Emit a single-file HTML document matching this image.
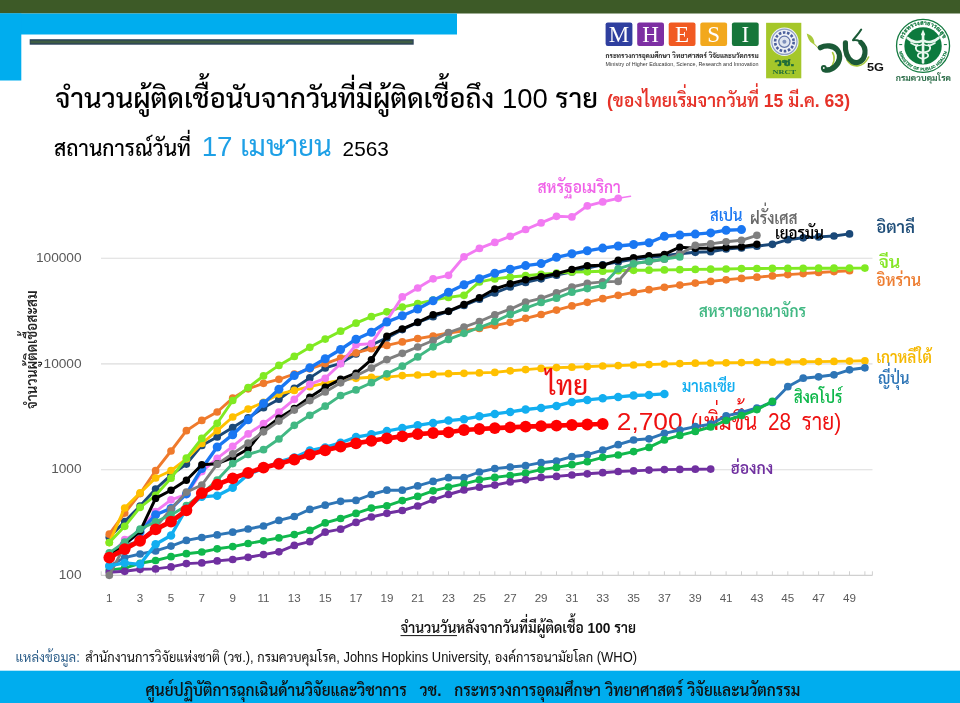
<!DOCTYPE html>
<html lang="th"><head><meta charset="utf-8"><title>COVID-19</title>
<style>html,body{margin:0;padding:0;background:#fff}body{width:960px;height:703px;overflow:hidden}svg{display:block}text{font-family:'Liberation Sans','Sarabun','Noto Sans Thai',sans-serif}.sf,.sf text{font-family:"Liberation Serif",serif}</style></head><body>
<svg width="960" height="703" viewBox="0 0 960 703">
<rect width="960" height="703" fill="#fff"/>
<rect x="0" y="0" width="960" height="13.5" fill="#3d5a27"/>
<rect x="0" y="13.5" width="457" height="21" fill="#00adee"/>
<rect x="0" y="13.5" width="21.3" height="67" fill="#00adee"/>
<rect x="29.7" y="39.2" width="384" height="5.5" fill="#2a4159"/>
<rect x="30.5" y="40.6" width="382" height="2.7" fill="#3e5c44"/>
<rect x="0" y="670.7" width="960" height="32.3" fill="#00adee"/>
<line x1="101" x2="872.5" y1="258.3" y2="258.3" stroke="#dcdcdc" stroke-width="1.1"/>
<line x1="101" x2="872.5" y1="363.9" y2="363.9" stroke="#dcdcdc" stroke-width="1.1"/>
<line x1="101" x2="872.5" y1="469.8" y2="469.8" stroke="#dcdcdc" stroke-width="1.1"/>
<line x1="101" x2="872.5" y1="575.3" y2="575.3" stroke="#d0d0d0" stroke-width="1.2"/>
<path d="M109.3 575.3v-4M124.7 575.3v-4M140.1 575.3v-4M155.6 575.3v-4M171.0 575.3v-4M186.4 575.3v-4M201.8 575.3v-4M217.2 575.3v-4M232.7 575.3v-4M248.1 575.3v-4M263.5 575.3v-4M278.9 575.3v-4M294.3 575.3v-4M309.8 575.3v-4M325.2 575.3v-4M340.6 575.3v-4M356.0 575.3v-4M371.4 575.3v-4M386.9 575.3v-4M402.3 575.3v-4M417.7 575.3v-4M433.1 575.3v-4M448.5 575.3v-4M464.0 575.3v-4M479.4 575.3v-4M494.8 575.3v-4M510.2 575.3v-4M525.6 575.3v-4M541.1 575.3v-4M556.5 575.3v-4M571.9 575.3v-4M587.3 575.3v-4M602.7 575.3v-4M618.2 575.3v-4M633.6 575.3v-4M649.0 575.3v-4M664.4 575.3v-4M679.8 575.3v-4M695.3 575.3v-4M710.7 575.3v-4M726.1 575.3v-4M741.5 575.3v-4M756.9 575.3v-4M772.4 575.3v-4M787.8 575.3v-4M803.2 575.3v-4M818.6 575.3v-4M834.0 575.3v-4M849.5 575.3v-4M864.9 575.3v-4M101.2 575.3v-4M872.4 575.3v-4" stroke="#d0d0d0" stroke-width="1" fill="none"/>
<text x="81.6" y="261.9" text-anchor="end" font-size="13.7" fill="#595959">100000</text>
<text x="81.6" y="367.5" text-anchor="end" font-size="13.7" fill="#595959">10000</text>
<text x="81.6" y="473.4" text-anchor="end" font-size="13.7" fill="#595959">1000</text>
<text x="81.6" y="578.9" text-anchor="end" font-size="13.7" fill="#595959">100</text>
<text x="109.3" y="602" text-anchor="middle" font-size="11.6" fill="#595959">1</text>
<text x="140.1" y="602" text-anchor="middle" font-size="11.6" fill="#595959">3</text>
<text x="171.0" y="602" text-anchor="middle" font-size="11.6" fill="#595959">5</text>
<text x="201.8" y="602" text-anchor="middle" font-size="11.6" fill="#595959">7</text>
<text x="232.7" y="602" text-anchor="middle" font-size="11.6" fill="#595959">9</text>
<text x="263.5" y="602" text-anchor="middle" font-size="11.6" fill="#595959">11</text>
<text x="294.3" y="602" text-anchor="middle" font-size="11.6" fill="#595959">13</text>
<text x="325.2" y="602" text-anchor="middle" font-size="11.6" fill="#595959">15</text>
<text x="356.0" y="602" text-anchor="middle" font-size="11.6" fill="#595959">17</text>
<text x="386.9" y="602" text-anchor="middle" font-size="11.6" fill="#595959">19</text>
<text x="417.7" y="602" text-anchor="middle" font-size="11.6" fill="#595959">21</text>
<text x="448.5" y="602" text-anchor="middle" font-size="11.6" fill="#595959">23</text>
<text x="479.4" y="602" text-anchor="middle" font-size="11.6" fill="#595959">25</text>
<text x="510.2" y="602" text-anchor="middle" font-size="11.6" fill="#595959">27</text>
<text x="541.1" y="602" text-anchor="middle" font-size="11.6" fill="#595959">29</text>
<text x="571.9" y="602" text-anchor="middle" font-size="11.6" fill="#595959">31</text>
<text x="602.7" y="602" text-anchor="middle" font-size="11.6" fill="#595959">33</text>
<text x="633.6" y="602" text-anchor="middle" font-size="11.6" fill="#595959">35</text>
<text x="664.4" y="602" text-anchor="middle" font-size="11.6" fill="#595959">37</text>
<text x="695.3" y="602" text-anchor="middle" font-size="11.6" fill="#595959">39</text>
<text x="726.1" y="602" text-anchor="middle" font-size="11.6" fill="#595959">41</text>
<text x="756.9" y="602" text-anchor="middle" font-size="11.6" fill="#595959">43</text>
<text x="787.8" y="602" text-anchor="middle" font-size="11.6" fill="#595959">45</text>
<text x="818.6" y="602" text-anchor="middle" font-size="11.6" fill="#595959">47</text>
<text x="849.5" y="602" text-anchor="middle" font-size="11.6" fill="#595959">49</text>
<text id="t_n2700" x="616.8" y="429.7" font-size="24.5" fill="#ee1111" font-weight="normal" textLength="65.8" lengthAdjust="spacingAndGlyphs">2,700</text>
<text id="t_n2700b" x="690.8" y="429.7" font-size="24.5" fill="#ee1111" font-weight="normal" textLength="66.4" lengthAdjust="spacingAndGlyphs">(เพิ่มขึ้น</text>
<text id="t_n2700c" x="768.0" y="429.7" font-size="24.5" fill="#ee1111" font-weight="normal" textLength="23.2" lengthAdjust="spacingAndGlyphs">28</text>
<text id="t_n2700d" x="801.8" y="429.7" font-size="24.5" fill="#ee1111" font-weight="normal" textLength="39.4" lengthAdjust="spacingAndGlyphs">ราย)</text>
<defs><marker id="m_italy" markerUnits="userSpaceOnUse" markerWidth="9.7" markerHeight="9.7" refX="4.85" refY="4.85"><circle cx="4.85" cy="4.85" r="3.85" fill="#1a4878"/></marker><marker id="m_iran" markerUnits="userSpaceOnUse" markerWidth="9.7" markerHeight="9.7" refX="4.85" refY="4.85"><circle cx="4.85" cy="4.85" r="3.85" fill="#ef7a2c"/></marker><marker id="m_korea" markerUnits="userSpaceOnUse" markerWidth="9.7" markerHeight="9.7" refX="4.85" refY="4.85"><circle cx="4.85" cy="4.85" r="3.85" fill="#ffc000"/></marker><marker id="m_china" markerUnits="userSpaceOnUse" markerWidth="9.7" markerHeight="9.7" refX="4.85" refY="4.85"><circle cx="4.85" cy="4.85" r="3.85" fill="#80ea22"/></marker><marker id="m_japan" markerUnits="userSpaceOnUse" markerWidth="9.7" markerHeight="9.7" refX="4.85" refY="4.85"><circle cx="4.85" cy="4.85" r="3.85" fill="#2e75b6"/></marker><marker id="m_sg" markerUnits="userSpaceOnUse" markerWidth="9.7" markerHeight="9.7" refX="4.85" refY="4.85"><circle cx="4.85" cy="4.85" r="3.85" fill="#10b84c"/></marker><marker id="m_hk" markerUnits="userSpaceOnUse" markerWidth="9.7" markerHeight="9.7" refX="4.85" refY="4.85"><circle cx="4.85" cy="4.85" r="3.85" fill="#7030a0"/></marker><marker id="m_usa" markerUnits="userSpaceOnUse" markerWidth="9.7" markerHeight="9.7" refX="4.85" refY="4.85"><circle cx="4.85" cy="4.85" r="3.85" fill="#f27af2"/></marker><marker id="m_spain" markerUnits="userSpaceOnUse" markerWidth="11" markerHeight="11" refX="5.5" refY="5.5"><circle cx="5.5" cy="5.5" r="4.5" fill="#1a77f2"/></marker><marker id="m_ger" markerUnits="userSpaceOnUse" markerWidth="9.4" markerHeight="9.4" refX="4.7" refY="4.7"><circle cx="4.7" cy="4.7" r="3.7" fill="#000000"/></marker><marker id="m_fra" markerUnits="userSpaceOnUse" markerWidth="9.7" markerHeight="9.7" refX="4.85" refY="4.85"><circle cx="4.85" cy="4.85" r="3.85" fill="#7f7f7f"/></marker><marker id="m_uk" markerUnits="userSpaceOnUse" markerWidth="9.7" markerHeight="9.7" refX="4.85" refY="4.85"><circle cx="4.85" cy="4.85" r="3.85" fill="#41b883"/></marker><marker id="m_mal" markerUnits="userSpaceOnUse" markerWidth="10.5" markerHeight="10.5" refX="5.25" refY="5.25"><circle cx="5.25" cy="5.25" r="4.25" fill="#12aef0"/></marker><marker id="m_thai" markerUnits="userSpaceOnUse" markerWidth="13.8" markerHeight="13.8" refX="6.9" refY="6.9"><circle cx="6.9" cy="6.9" r="5.9" fill="#ff0000"/></marker></defs>
<polyline points="109.3,537.3 124.7,521.6 140.1,506.0 155.6,489.0 171.0,475.1 186.4,464.1 201.8,445.4 217.2,437.0 232.7,427.5 248.1,417.9 263.5,407.7 278.9,399.2 294.3,388.3 309.8,377.9 325.2,367.9 340.6,363.3 356.0,353.9 371.4,345.0 386.9,337.9 402.3,329.6 417.7,322.4 433.1,316.7 448.5,311.3 464.0,305.5 479.4,299.2 494.8,292.9 510.2,286.9 525.6,282.4 541.1,278.8 556.5,275.2 571.9,271.9 587.3,268.2 602.7,264.9 618.2,261.9 633.6,259.4 649.0,257.5 664.4,255.7 679.8,253.7 695.3,252.3 710.7,251.7 726.1,249.0 741.5,247.9 756.9,246.2 772.4,244.3 787.8,239.7 803.2,237.8 818.6,236.9 834.0,236.0 849.5,233.9" fill="none" stroke="#1a4878" stroke-width="2.9" stroke-linejoin="round" stroke-linecap="round" marker-start="url(#m_italy)" marker-mid="url(#m_italy)" marker-end="url(#m_italy)"/>
<polyline points="109.3,534.2 124.7,513.1 140.1,493.6 155.6,470.7 171.0,451.0 186.4,430.7 201.8,420.4 217.2,412.0 232.7,398.2 248.1,388.8 263.5,383.3 278.9,379.3 294.3,374.0 309.8,368.8 325.2,363.6 340.6,358.1 356.0,352.9 371.4,348.7 386.9,345.4 402.3,341.9 417.7,338.6 433.1,336.0 448.5,333.0 464.0,330.8 479.4,328.5 494.8,325.6 510.2,322.3 525.6,318.3 541.1,314.5 556.5,310.1 571.9,305.9 587.3,302.3 602.7,298.7 618.2,295.3 633.6,292.4 649.0,289.7 664.4,287.3 679.8,285.1 695.3,283.1 710.7,281.4 726.1,279.8 741.5,278.4 756.9,277.2 772.4,275.9 787.8,274.6 803.2,273.6 818.6,272.5 834.0,271.6 849.5,270.7" fill="none" stroke="#ef7a2c" stroke-width="2.9" stroke-linejoin="round" stroke-linecap="round" marker-start="url(#m_iran)" marker-mid="url(#m_iran)" marker-end="url(#m_iran)"/>
<polyline points="109.3,542.6 124.7,508.0 140.1,492.9 155.6,478.0 171.0,470.7 186.4,459.0 201.8,443.5 217.2,430.7 232.7,417.0 248.1,409.1 263.5,402.3 278.9,394.1 294.3,390.4 309.8,386.7 325.2,383.1 340.6,380.1 356.0,378.3 371.4,377.3 386.9,377.1 402.3,375.6 417.7,375.0 433.1,374.3 448.5,373.7 464.0,373.3 479.4,372.9 494.8,372.4 510.2,370.8 525.6,369.6 541.1,368.4 556.5,367.6 571.9,367.2 587.3,366.6 602.7,366.0 618.2,365.6 633.6,365.0 649.0,364.6 664.4,364.0 679.8,363.6 695.3,363.2 710.7,363.0 726.1,362.8 741.5,362.6 756.9,362.4 772.4,362.2 787.8,362.0 803.2,361.8 818.6,361.6 834.0,361.4 849.5,361.1 864.9,360.8" fill="none" stroke="#ffc000" stroke-width="2.9" stroke-linejoin="round" stroke-linecap="round" marker-start="url(#m_korea)" marker-mid="url(#m_korea)" marker-end="url(#m_korea)"/>
<polyline points="109.3,542.6 124.7,526.3 140.1,507.3 155.6,495.3 171.0,478.2 186.4,458.1 201.8,438.4 217.2,423.3 232.7,400.5 248.1,387.6 263.5,375.9 278.9,365.4 294.3,356.4 309.8,347.3 325.2,339.1 340.6,331.2 356.0,323.2 371.4,316.7 386.9,311.8 402.3,307.1 417.7,303.7 433.1,300.1 448.5,297.4 464.0,295.3 479.4,281.9 494.8,278.9 510.2,277.0 525.6,275.7 541.1,274.3 556.5,273.1 571.9,272.0 587.3,271.8 602.7,271.2 618.2,270.7 633.6,270.3 649.0,270.2 664.4,269.9 679.8,269.7 695.3,269.4 710.7,269.2 726.1,269.0 741.5,268.6 756.9,268.5 772.4,268.4 787.8,268.4 803.2,268.3 818.6,268.2 834.0,268.2 849.5,268.1 864.9,268.1" fill="none" stroke="#80ea22" stroke-width="2.9" stroke-linejoin="round" stroke-linecap="round" marker-start="url(#m_china)" marker-mid="url(#m_china)" marker-end="url(#m_china)"/>
<polyline points="109.3,566.2 124.7,557.6 140.1,554.0 155.6,550.9 171.0,546.1 186.4,540.4 201.8,537.5 217.2,534.9 232.7,532.2 248.1,529.0 263.5,526.0 278.9,520.4 294.3,516.5 309.8,509.4 325.2,505.2 340.6,501.3 356.0,500.4 371.4,494.5 386.9,490.2 402.3,490.2 417.7,485.9 433.1,481.4 448.5,477.7 464.0,477.7 479.4,472.0 494.8,468.6 510.2,467.0 525.6,465.7 541.1,462.7 556.5,461.0 571.9,456.7 587.3,454.7 602.7,450.1 618.2,444.7 633.6,440.0 649.0,438.8 664.4,433.3 679.8,430.0 695.3,426.7 710.7,424.2 726.1,415.8 741.5,412.5 756.9,408.0 772.4,402.4 787.8,386.7 803.2,378.2 818.6,376.8 834.0,374.8 849.5,369.8 864.9,367.8" fill="none" stroke="#2e75b6" stroke-width="2.9" stroke-linejoin="round" stroke-linecap="round" marker-start="url(#m_japan)" marker-mid="url(#m_japan)" marker-end="url(#m_japan)"/>
<polyline points="109.3,570.1 124.7,568.1 140.1,563.3 155.6,560.5 171.0,556.7 186.4,553.7 201.8,552.0 217.2,548.8 232.7,546.6 248.1,543.5 263.5,540.8 278.9,537.9 294.3,534.6 309.8,530.4 325.2,522.9 340.6,518.5 356.0,513.4 371.4,508.1 386.9,505.8 402.3,500.6 417.7,496.4 433.1,490.8 448.5,487.1 464.0,483.9 479.4,479.8 494.8,477.4 510.2,475.5 525.6,473.2 541.1,469.6 556.5,467.4 571.9,464.7 587.3,461.7 602.7,457.3 618.2,455.0 633.6,451.6 649.0,447.4 664.4,439.9 679.8,435.4 695.3,431.4 710.7,427.0 726.1,420.5 741.5,415.5 756.9,409.6 772.4,401.4" fill="none" stroke="#10b84c" stroke-width="2.9" stroke-linejoin="round" stroke-linecap="round" marker-start="url(#m_sg)" marker-mid="url(#m_sg)" marker-end="url(#m_sg)"/>
<polyline points="109.3,572.2 124.7,571.3 140.1,569.3 155.6,568.9 171.0,566.9 186.4,563.6 201.8,562.9 217.2,560.9 232.7,559.5 248.1,557.3 263.5,554.6 278.9,551.8 294.3,545.4 309.8,541.7 325.2,532.2 340.6,529.2 356.0,522.4 371.4,517.0 386.9,513.3 402.3,510.5 417.7,506.0 433.1,499.8 448.5,494.5 464.0,490.0 479.4,487.2 494.8,485.1 510.2,481.9 525.6,479.8 541.1,477.4 556.5,476.4 571.9,475.0 587.3,473.8 602.7,472.7 618.2,471.5 633.6,470.9 649.0,470.1 664.4,469.6 679.8,469.4 695.3,469.2 710.7,469.1" fill="none" stroke="#7030a0" stroke-width="2.9" stroke-linejoin="round" stroke-linecap="round" marker-start="url(#m_hk)" marker-mid="url(#m_hk)" marker-end="url(#m_hk)"/>
<polyline points="109.3,557.0 124.7,539.7 140.1,531.1 155.6,511.5 171.0,499.8 186.4,494.4 201.8,471.6 217.2,458.3 232.7,446.3 248.1,433.9 263.5,423.6 278.9,412.2 294.3,399.3 309.8,384.3 325.2,378.3 340.6,363.7 356.0,344.8 371.4,343.6 386.9,320.5 402.3,296.9 417.7,288.0 433.1,278.8 448.5,275.3 464.0,256.8 479.4,248.4 494.8,242.4 510.2,236.3 525.6,229.5 541.1,222.9 556.5,216.3 571.9,216.9 587.3,205.9 602.7,201.9 618.2,198.3" fill="none" stroke="#f27af2" stroke-width="2.9" stroke-linejoin="round" stroke-linecap="round" marker-start="url(#m_usa)" marker-mid="url(#m_usa)" marker-end="url(#m_usa)"/>
<polyline points="109.3,556.4 124.7,544.0 140.1,532.0 155.6,514.8 171.0,508.4 186.4,493.9 201.8,468.5 217.2,447.0 232.7,434.7 248.1,419.8 263.5,403.4 278.9,389.3 294.3,375.6 309.8,367.8 325.2,358.8 340.6,349.5 356.0,339.2 371.4,332.2 386.9,322.0 402.3,315.8 417.7,309.0 433.1,300.7 448.5,292.3 464.0,284.7 479.4,278.7 494.8,273.2 510.2,269.2 525.6,265.6 541.1,263.6 556.5,257.3 571.9,253.8 587.3,250.8 602.7,248.1 618.2,246.0 633.6,244.5 649.0,242.7 664.4,236.2 679.8,235.0 695.3,234.1 710.7,232.9 726.1,230.2 741.5,229.6" fill="none" stroke="#1a77f2" stroke-width="3.4" stroke-linejoin="round" stroke-linecap="round" marker-start="url(#m_spain)" marker-mid="url(#m_spain)" marker-end="url(#m_spain)"/>
<polyline points="109.3,554.6 124.7,544.4 140.1,531.1 155.6,498.4 171.0,490.2 186.4,480.2 201.8,464.8 217.2,463.7 232.7,457.7 248.1,449.0 263.5,430.0 278.9,418.3 294.3,408.4 309.8,397.3 325.2,387.3 340.6,379.3 356.0,373.1 371.4,359.6 386.9,336.2 402.3,328.9 417.7,322.3 433.1,314.8 448.5,311.2 464.0,304.5 479.4,297.8 494.8,289.0 510.2,283.8 525.6,279.8 541.1,276.7 556.5,273.7 571.9,269.4 587.3,265.7 602.7,265.3 618.2,260.1 633.6,257.7 649.0,255.7 664.4,254.4 679.8,247.2 695.3,248.2 710.7,248.2 726.1,247.5 741.5,246.7 756.9,244.2" fill="none" stroke="#000000" stroke-width="3" stroke-linejoin="round" stroke-linecap="round" marker-start="url(#m_ger)" marker-mid="url(#m_ger)" marker-end="url(#m_ger)"/>
<polyline points="109.3,575.3 124.7,545.6 140.1,540.8 155.6,527.2 171.0,509.1 186.4,492.1 201.8,485.0 217.2,464.2 232.7,453.8 248.1,443.1 263.5,431.8 278.9,421.1 294.3,410.1 309.8,400.6 325.2,392.0 340.6,382.8 356.0,375.8 371.4,368.1 386.9,359.6 402.3,353.3 417.7,347.0 433.1,340.5 448.5,332.5 464.0,327.1 479.4,321.5 494.8,314.9 510.2,309.2 525.6,302.1 541.1,298.3 556.5,292.9 571.9,287.0 587.3,283.4 602.7,281.9 618.2,281.4 633.6,263.1 649.0,261.7 664.4,259.2 679.8,254.3 695.3,245.3 710.7,243.9 726.1,241.8 741.5,240.3 756.9,235.3" fill="none" stroke="#7f7f7f" stroke-width="2.9" stroke-linejoin="round" stroke-linecap="round" marker-start="url(#m_fra)" marker-mid="url(#m_fra)" marker-end="url(#m_fra)"/>
<polyline points="109.3,552.9 124.7,542.1 140.1,529.2 155.6,521.8 171.0,514.9 186.4,505.7 201.8,493.8 217.2,480.0 232.7,463.6 248.1,454.5 263.5,449.7 278.9,439.0 294.3,425.3 309.8,415.3 325.2,406.2 340.6,395.6 356.0,389.9 371.4,382.7 386.9,373.8 402.3,366.2 417.7,356.9 433.1,346.8 448.5,339.4 464.0,333.3 479.4,327.5 494.8,321.6 510.2,314.4 525.6,308.2 541.1,302.5 556.5,298.2 571.9,292.2 587.3,288.6 602.7,285.5 618.2,268.8 633.6,263.8 649.0,261.2 664.4,259.0 679.8,256.9" fill="none" stroke="#41b883" stroke-width="2.9" stroke-linejoin="round" stroke-linecap="round" marker-start="url(#m_uk)" marker-mid="url(#m_uk)" marker-end="url(#m_uk)"/>
<polyline points="109.3,565.8 124.7,562.9 140.1,564.3 155.6,544.2 171.0,535.5 186.4,508.6 201.8,496.8 217.2,495.7 232.7,487.8 248.1,474.5 263.5,468.3 278.9,461.9 294.3,457.4 309.8,450.5 325.2,447.4 340.6,442.8 356.0,437.1 371.4,434.3 386.9,431.0 402.3,428.1 417.7,425.3 433.1,422.9 448.5,420.6 464.0,419.2 479.4,416.3 494.8,413.9 510.2,411.9 525.6,409.5 541.1,407.9 556.5,405.9 571.9,401.9 587.3,399.9 602.7,398.3 618.2,396.9 633.6,395.5 649.0,394.9 664.4,393.9" fill="none" stroke="#12aef0" stroke-width="3.3" stroke-linejoin="round" stroke-linecap="round" marker-start="url(#m_mal)" marker-mid="url(#m_mal)" marker-end="url(#m_mal)"/>
<polyline points="109.3,557.6 124.7,549.1 140.1,540.8 155.6,529.4 171.0,521.6 186.4,510.4 201.8,493.1 217.2,484.6 232.7,478.3 248.1,472.8 263.5,467.6 278.9,463.8 294.3,459.6 309.8,454.6 325.2,450.3 340.6,446.6 356.0,443.4 371.4,440.8 386.9,438.3 402.3,436.3 417.7,434.1 433.1,433.0 448.5,432.3 464.0,430.0 479.4,429.0 494.8,428.1 510.2,427.3 525.6,426.7 541.1,426.2 556.5,425.6 571.9,425.0 587.3,424.5 602.7,424.0" fill="none" stroke="#ff0000" stroke-width="4.7" stroke-linejoin="round" stroke-linecap="round" marker-start="url(#m_thai)" marker-mid="url(#m_thai)" marker-end="url(#m_thai)"/>
<path d="M618.2 198.3 L630.5 196.3" stroke="#f27af2" stroke-width="1.5" stroke-linecap="round" fill="none"/>
<text id="t_title" x="55.0" y="107.5" font-size="27.2" fill="#000" font-weight="500" textLength="543.0" lengthAdjust="spacingAndGlyphs">จำนวนผู้ติดเชื้อนับจากวันที่มีผู้ติดเชื้อถึง 100 ราย</text>
<text id="t_note" x="607.0" y="107.0" font-size="18.5" fill="#e63228" font-weight="600" textLength="243.0" lengthAdjust="spacingAndGlyphs">(ของไทยเริ่มจากวันที่ 15 มี.ค. 63)</text>
<text id="t_sit" x="54.0" y="156.0" font-size="21.5" fill="#000" font-weight="500" textLength="137.0" lengthAdjust="spacingAndGlyphs">สถานการณ์วันที่</text>
<text id="t_date" x="201.7" y="156.0" font-size="28" fill="#1ea0e6" font-weight="normal" textLength="130.0" lengthAdjust="spacingAndGlyphs">17 เมษายน</text>
<text id="t_year" x="342.6" y="156.4" font-size="20.8" fill="#000" font-weight="normal" textLength="46.2" lengthAdjust="spacingAndGlyphs">2563</text>
<text id="t_usa" x="537.4" y="193.0" font-size="17" fill="#f062e8" font-weight="600" textLength="83.4" lengthAdjust="spacingAndGlyphs">สหรัฐอเมริกา</text>
<text id="t_spain" x="710.0" y="221.3" font-size="17" fill="#1a77f2" font-weight="600" textLength="32.5" lengthAdjust="spacingAndGlyphs">สเปน</text>
<text id="t_fra" x="750.0" y="223.7" font-size="17" fill="#6a6a6a" font-weight="600" textLength="47.5" lengthAdjust="spacingAndGlyphs">ฝรั่งเศส</text>
<text id="t_ger" x="775.0" y="238.7" font-size="17" fill="#000" font-weight="600" textLength="48.8" lengthAdjust="spacingAndGlyphs">เยอรมัน</text>
<text id="t_ita" x="876.2" y="233.0" font-size="17" fill="#1f4e79" font-weight="600" textLength="38.8" lengthAdjust="spacingAndGlyphs">อิตาลี</text>
<text id="t_chn" x="878.7" y="267.5" font-size="17" fill="#86e626" font-weight="600" textLength="21.5" lengthAdjust="spacingAndGlyphs">จีน</text>
<text id="t_irn" x="876.2" y="285.5" font-size="17" fill="#ed7d31" font-weight="600" textLength="45.0" lengthAdjust="spacingAndGlyphs">อิหร่าน</text>
<text id="t_uk" x="698.7" y="317.0" font-size="17" fill="#41b883" font-weight="600" textLength="107.5" lengthAdjust="spacingAndGlyphs">สหราชอาณาจักร</text>
<text id="t_kor" x="876.2" y="363.0" font-size="17" fill="#f5b800" font-weight="600" textLength="55.8" lengthAdjust="spacingAndGlyphs">เกาหลีใต้</text>
<text id="t_jpn" x="878.0" y="383.8" font-size="17" fill="#2e75b6" font-weight="600" textLength="31.5" lengthAdjust="spacingAndGlyphs">ญี่ปุ่น</text>
<text id="t_mal" x="682.0" y="392.2" font-size="17" fill="#12aef0" font-weight="600" textLength="53.5" lengthAdjust="spacingAndGlyphs">มาเลเซีย</text>
<text id="t_sgp" x="793.7" y="403.0" font-size="17" fill="#10b84c" font-weight="600" textLength="48.8" lengthAdjust="spacingAndGlyphs">สิงคโปร์</text>
<text id="t_thai" x="545.5" y="394.8" font-size="27.5" fill="#ee1111" font-weight="500" textLength="42.5" lengthAdjust="spacingAndGlyphs">ไทย</text>
<text id="t_hk" x="730.7" y="473.5" font-size="17" fill="#7030a0" font-weight="600" textLength="42.5" lengthAdjust="spacingAndGlyphs">ฮ่องกง</text>
<text id="t_xt" x="400.5" y="633.3" font-size="14.5" fill="#111" font-weight="600" textLength="235.5" lengthAdjust="spacingAndGlyphs">จำนวนวันหลังจากวันที่มีผู้ติดเชื้อ 100 ราย</text>
<text id="t_src1" x="15.5" y="662.3" font-size="14" fill="#2e5f8a" font-weight="normal" textLength="64.3" lengthAdjust="spacingAndGlyphs">แหล่งข้อมูล:</text>
<text id="t_src2" x="85.3" y="662.3" font-size="14" fill="#111" font-weight="normal" textLength="551.7" lengthAdjust="spacingAndGlyphs">สำนักงานการวิจัยแห่งชาติ (วช.), กรมควบคุมโรค, Johns Hopkins University, องค์การอนามัยโลก (WHO)</text>
<text id="t_foot" x="145.4" y="696.0" font-size="16" fill="#111" font-weight="600" textLength="655.0" lengthAdjust="spacingAndGlyphs" style="white-space:pre">ศูนย์ปฏิบัติการฉุกเฉินด้านวิจัยและวิชาการ   วช.   กระทรวงการอุดมศึกษา วิทยาศาสตร์ วิจัยและนวัตกรรม</text>
<text id="t_ytitle" transform="translate(36.6 409) rotate(-90)" font-size="15.6" font-weight="600" fill="#222" textLength="118.5" lengthAdjust="spacingAndGlyphs">จำนวนผู้ติดเชื้อสะสม</text>
<line x1="400.5" x2="457" y1="635.6" y2="635.6" stroke="#111" stroke-width="1"/>
<g id="mhesi" class="sf" font-size="23" fill="#fff" text-anchor="middle">
<rect x="605.6" y="22.4" width="26.8" height="23.5" rx="2.2" fill="#2f3f9f"/>
<rect x="637.2" y="22.4" width="26.8" height="23.5" rx="2.2" fill="#7d2fa3"/>
<rect x="668.7" y="22.4" width="26.8" height="23.5" rx="2.2" fill="#f15a22"/>
<rect x="700.3" y="22.4" width="26.8" height="23.5" rx="2.2" fill="#f2a81d"/>
<rect x="731.9" y="22.4" width="26.8" height="23.5" rx="2.2" fill="#16763a"/>
<text x="619" y="42">M</text><text x="650.6" y="42">H</text><text x="682.1" y="42">E</text><text x="713.7" y="42">S</text><text x="745.3" y="42">I</text>
</g>
<text x="605.6" y="58" font-size="7.4" font-weight="bold" fill="#222" textLength="153" lengthAdjust="spacingAndGlyphs">กระทรวงการอุดมศึกษา วิทยาศาสตร์ วิจัยและนวัตกรรม</text>
<text x="605.6" y="66" font-size="4.7" fill="#333" textLength="153" lengthAdjust="spacingAndGlyphs">Ministry of Higher Education, Science, Research and Innovation</text>
<g id="nrct">
<rect x="766.1" y="22.8" width="35.2" height="55.5" fill="#a5c72a"/>
<circle cx="784.4" cy="41.8" r="14.2" fill="#eef1f6"/>
<circle cx="784.4" cy="41.8" r="12.6" fill="none" stroke="#8fa0c4" stroke-width="1.2"/>
<circle cx="784.4" cy="41.8" r="9.3" fill="none" stroke="#4a5f9c" stroke-width="2.6" stroke-dasharray="2.6 1.6"/>
<circle cx="784.4" cy="41.8" r="5.6" fill="#dfe5f0" stroke="#6274a8" stroke-width="1.2"/>
<circle cx="784.4" cy="41.8" r="2" fill="#7f90bb"/>
<text x="784.6" y="66.3" font-size="10" font-weight="bold" fill="#1c6a3a" stroke="#1c6a3a" stroke-width="0.5" text-anchor="middle" textLength="19.5" lengthAdjust="spacingAndGlyphs">วช.</text>
<text x="784.2" y="73.7" font-size="6.3" font-weight="bold" fill="#1c6a3a" text-anchor="middle" class="sf" textLength="23.5" lengthAdjust="spacingAndGlyphs">NRCT</text>
</g>
<g id="wc5g" fill="none" stroke-linecap="round" stroke-linejoin="round">
<path d="M806.7 33.4 C811.5 35 814.6 38.6 814.4 43.4 C817 45.6 818.6 48 819.8 51 C817.6 47.6 815.4 45.6 812.6 43.6 C809 41.2 807.6 37.6 806.7 33.4Z" fill="#a9c93c" stroke="none"/>
<path d="M832.5 52.5 C835.5 57 834.5 64 829.5 68.6" stroke="#a9c93c" stroke-width="1.5"/>
<path d="M847 60 C852 68 863 68.6 868.6 57" stroke="#a9c93c" stroke-width="1.6"/>
<path d="M820.4 47.6 C826 44.8 833.5 45.4 837.3 50 C841 55 840 62 835.3 66.3 C832 69.4 827.5 70.6 824.4 69.6" stroke="#1b5a37" stroke-width="5.4"/>
<circle cx="823.8" cy="68" r="2.9" fill="#1b5a37" stroke="none"/>
<circle cx="823.8" cy="68" r="0.9" fill="#fff" stroke="none"/>
<path d="M845.4 42.8 C845 50 846.6 58 852.4 61.6 C858.4 64.6 864 60.4 864.9 53.6 C865.5 48.8 863.8 45 861 42.6" stroke="#1b5a37" stroke-width="5.2"/>
<path d="M862.8 44 C859.6 40.4 856.2 39.4 853 40.2 C855.4 36.8 858.6 34 861.2 29.6" stroke="#1b5a37" stroke-width="2"/>
</g>
<text x="867" y="71" font-size="11.6" font-weight="bold" fill="#111" textLength="17" lengthAdjust="spacingAndGlyphs">5G</text>
<g id="moph">
<circle cx="923.05" cy="45.9" r="26.5" fill="#fff" stroke="#137a40" stroke-width="1.3"/>
<circle cx="923.05" cy="45.9" r="18.7" fill="#0d7a3e"/>
<defs>
<path id="arcTop" d="M901.85 45.9 A21.2 21.2 0 0 1 944.25 45.9"/>
<path id="arcBot" d="M898.35 45.9 A24.7 24.7 0 0 0 947.75 45.9"/>
</defs>
<text font-size="5.6" font-weight="bold" fill="#137a40" stroke="#137a40" stroke-width="0.25" text-anchor="middle" letter-spacing="0.25"><textPath href="#arcTop" startOffset="50%">กระทรวงสาธารณสุข</textPath></text>
<text font-size="4.1" font-weight="bold" fill="#137a40" stroke="#137a40" stroke-width="0.2" text-anchor="middle" letter-spacing="0.2"><textPath href="#arcBot" startOffset="50%">MINISTRY OF PUBLIC HEALTH</textPath></text>
<path d="M899.2 44.6h3M943.9 44.6h3" stroke="#137a40" stroke-width="1"/>
<g fill="none" stroke="#eaf7ef" stroke-linecap="round" stroke-linejoin="round">
<path d="M923.05 34 L923.05 62.5" stroke-width="2.6"/>
<path d="M907.6 38 C912 42.4 918 43 922 40.8 M938.5 38 C934 42.4 928 43 924 40.8" stroke-width="2.6"/>
<path d="M911 43 C915 45.8 919 46 922 44.6 M935 43 C931 45.8 927 46 924 44.6" stroke-width="1.6"/>
<path d="M917.6 45 C914 48 916 52 923 52.4 C929.4 53 930 57 924 58.6 M928.4 45 C932 48 930 52 923 52.4 C916.6 53 916 57 922 58.6" stroke-width="1.7"/>
</g>
<path d="M923.05 29.6 L925.2 34.6 L923.05 37 L920.9 34.6Z" fill="#eaf7ef"/>
</g>
<text x="895.8" y="80.5" font-size="9" font-weight="bold" fill="#2a6b47" textLength="55.2" lengthAdjust="spacingAndGlyphs">กรมควบคุมโรค</text>

</svg></body></html>
